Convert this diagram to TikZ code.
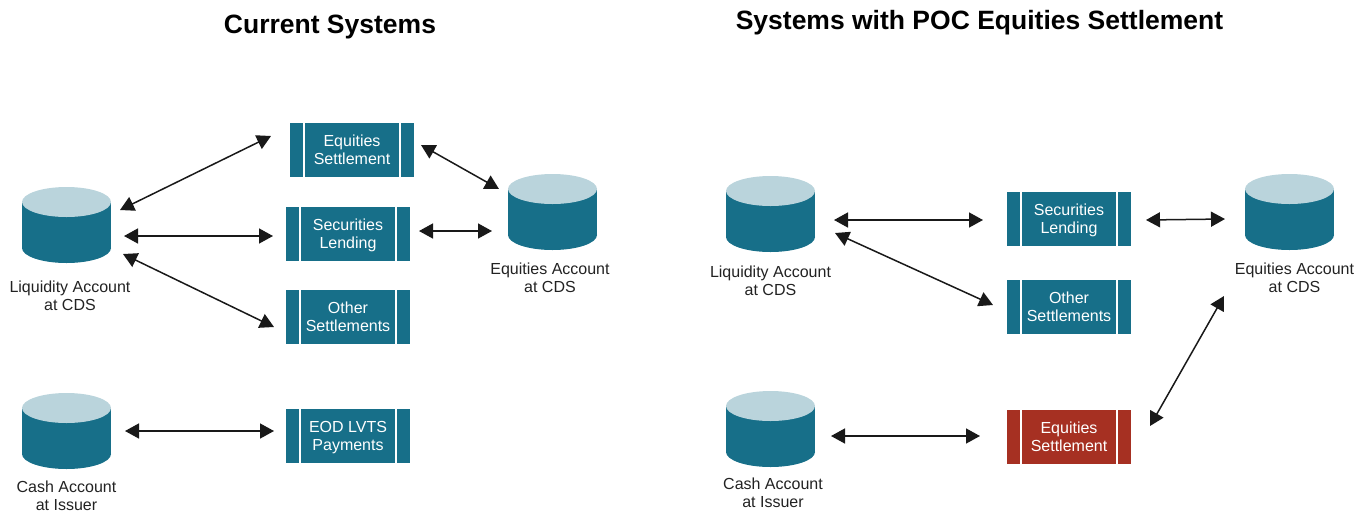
\documentclass[tikz,border=0pt]{standalone}
\usepackage{fontspec}
\setmainfont{Liberation Sans}
\usepackage{xcolor}
\usetikzlibrary{positioning}
\usetikzlibrary{arrows.meta}
\definecolor{tealfill}{HTML}{176F89}
\definecolor{tealtop}{HTML}{BAD4DC}
\definecolor{redfill}{HTML}{A63022}
\definecolor{labeltext}{HTML}{222222}

\begin{document}
\begin{tikzpicture}[x=1pt,y=-1pt,node distance=10pt,on grid,
    account/.style={rectangle,minimum width=89pt,minimum height=76pt,inner sep=0pt,outer sep=0pt,
      path picture={
        \fill[tealfill] ([yshift=15pt]path picture bounding box.south west) rectangle
          ([yshift=-15pt]path picture bounding box.north east);
        \fill[tealfill] ([yshift=15pt]path picture bounding box.south) ellipse [x radius=44.5pt,y radius=15pt];
        \fill[tealtop] ([yshift=-15pt]path picture bounding box.north) ellipse [x radius=44.5pt,y radius=15pt];
      }},
    process/.style={rectangle,fill=#1,text=white,minimum width=124pt,minimum height=54pt,
      inner sep=0pt,outer sep=0pt,align=center,text depth=0pt,font=\fontsize{16}{18}\selectfont,
      path picture={
        \fill[white] ([xshift=13pt]path picture bounding box.south west) rectangle
          ([xshift=15pt]path picture bounding box.north west);
        \fill[white] ([xshift=-15pt]path picture bounding box.south east) rectangle
          ([xshift=-13pt]path picture bounding box.north east);
      }},
    process/.default=tealfill,
    caption/.style={align=center,text=labeltext,inner sep=0pt,text depth=0pt,font=\fontsize{16}{18}\selectfont},
    heading/.style={inner sep=0pt,font=\fontsize{26.5}{30}\selectfont\bfseries},
    link/.style={{Triangle[length=14pt,width=15pt]}-{Triangle[length=14pt,width=15pt]},line width=1.5pt,draw=black!90}]
   \useasboundingbox (0,0) rectangle (1369,515);

   % current systems
   \node[heading] (title1) at (330,26.5) {Current Systems};
   \node[account] (liq1) at (66.5,225) {};
   \node[process] (eqset1) [above right=75pt and 285.5pt of liq1] {Equities\\Settlement};
   \node[process] (seclend1) [below right=9pt and 281.5pt of liq1] {Securities\\Lending};
   \node[process] (other1) [below right=92pt and 281.5pt of liq1] {Other\\Settlements};
   \node[account] (cash1) [below=206pt of liq1] {};
   \node[process] (eod) [below right=5pt and 281.5pt of cash1] {EOD LVTS\\Payments};
   \node[account] (eqacc1) [above right=22pt and 204.5pt of seclend1] {};
   \node[caption] (liqlabel1) [below right=71pt and 3.5pt of liq1] {Liquidity Account\\at CDS};
   \node[caption] (cashlabel1) [below=65pt of cash1] {Cash Account\\at Issuer};
   \node[caption] (eqacclabel1) [below left=66pt and 2.5pt of eqacc1] {Equities Account\\at CDS};
   \path
    ([shift={(9,-15)}]liq1.east) edge[link] ([shift={(-19,-14)}]eqset1.west)
    ([shift={(13,11)}]liq1.east) edge[link] ([shift={(-13,2)}]seclend1.west)
    ([shift={(12,29)}]liq1.east) edge[link] ([shift={(-12,10)}]other1.west)
    ([shift={(7,-5)}]eqset1.east) edge[link] ([shift={(-9,-23)}]eqacc1.west)
    ([shift={(9,-3)}]seclend1.east) edge[link] ([shift={(-16,19)}]eqacc1.west)
    ([shift={(14,0)}]cash1.east) edge[link] ([shift={(-12,-5)}]eod.west);

   % systems with poc
   \node[heading] (title2) at (979.5,22.5) {Systems with POC Equities Settlement};
   \node[account] (liq2) at (770.5,214) {};
   \node[process] (seclend2) [below right=5pt and 298.5pt of liq2] {Securities\\Lending};
   \node[process] (other2) [below=88pt of seclend2] {Other\\Settlements};
   \node[account] (cash2) [below=215pt of liq2] {};
   \node[process=redfill] (eqset2) [below right=8pt and 298.5pt of cash2] {Equities\\Settlement};
   \node[account] (eqacc2) [above right=7pt and 220.5pt of seclend2] {};
   \node[caption] (liqlabel2) [below=67pt of liq2] {Liquidity Account\\at CDS};
   \node[caption] (cashlabel2) [below right=64pt and 2.5pt of cash2] {Cash Account\\at Issuer};
   \node[caption] (eqacclabel2) [below right=66pt and 5pt of eqacc2] {Equities Account\\at CDS};
   \path
    ([shift={(19,6)}]liq2.east) edge[link] ([shift={(-24,1)}]seclend2.west)
    ([shift={(20,19)}]liq2.east) edge[link] ([shift={(-14,-2)}]other2.west)
    ([shift={(15,1)}]seclend2.east) edge[link] ([shift={(-20,7)}]eqacc2.west)
    ([shift={(16,7)}]cash2.east) edge[link] ([shift={(-27,-1)}]eqset2.west)
    ([shift={(19,-11)}]eqset2.east) edge[link] ([shift={(-21,84)}]eqacc2.west);
\end{tikzpicture}
\end{document}
